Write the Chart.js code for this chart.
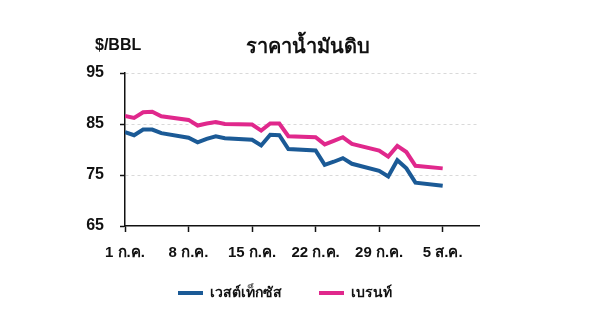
<!DOCTYPE html>
<html>
<head>
<meta charset="utf-8">
<script src="https://cdn.jsdelivr.net/npm/chart.js@4"></script>
<style>
html,body{margin:0;padding:0;background:#fff;}
#wrap{position:relative;width:600px;height:314px;}
</style>
</head>
<body>
<div id="wrap"><canvas id="c" width="600" height="314"></canvas></div>
<script>
const dates = ['2024-07-01','2024-07-02','2024-07-03','2024-07-04','2024-07-05',
  '2024-07-08','2024-07-09','2024-07-10','2024-07-11','2024-07-12',
  '2024-07-15','2024-07-16','2024-07-17','2024-07-18','2024-07-19',
  '2024-07-22','2024-07-23','2024-07-24','2024-07-25','2024-07-26',
  '2024-07-29','2024-07-30','2024-07-31','2024-08-01','2024-08-02','2024-08-05'];
const wti   = [83.4,82.8,83.9,83.9,83.2, 82.3,81.4,82.1,82.6,82.2, 81.9,80.8,82.9,82.8,80.1, 79.8,77.0,77.6,78.3,77.2, 75.8,74.7,77.9,76.3,73.5,72.9];
const brent = [86.6,86.2,87.3,87.4,86.5, 85.8,84.7,85.1,85.4,85.0, 84.9,83.7,85.1,85.1,82.6, 82.4,81.0,81.7,82.4,81.1, 79.8,78.6,80.7,79.5,76.8,76.3];
const seriesNames = ['เวสต์เท็กซัส','เบรนท์'];
const tickDays = [0,7,14,21,28,35];
const tickLabels = ['1 ก.ค.','8 ก.ค.','15 ก.ค.','22 ก.ค.','29 ก.ค.','5 ส.ค.'];
const yTicks = [65,75,85,95];
const titleText = 'ราคาน้ำมันดิบ';
const unitText = '$/BBL';

const base = Date.UTC(2024,6,1);
const dayOf = s => { const [y,m,d] = s.split('-').map(Number); return (Date.UTC(y,m-1,d)-base)/86400000; };
const pts = arr => arr.map((v,i)=>({x:dayOf(dates[i]), y:v}));

const FONT = "'Liberation Sans', Arial, sans-serif";

const headPlugin = {
  id:'head',
  afterDraw(chart){
    const ctx = chart.ctx;
    ctx.save();
    ctx.fillStyle = '#111';
    ctx.textBaseline = 'middle';
    ctx.textAlign = 'left';
    ctx.font = 'bold 16px ' + FONT;
    ctx.fillText(unitText, 95, 46);
    ctx.textAlign = 'center';
    ctx.font = 'bold 20px ' + FONT;
    ctx.fillText(titleText, 308, 47);
    ctx.restore();
  }
};

new Chart(document.getElementById('c'), {
  type:'line',
  data:{
    datasets:[
      {label:seriesNames[0], data:pts(wti), borderColor:'#1b5a96', backgroundColor:'#1b5a96', borderWidth:4, pointRadius:0, tension:0},
      {label:seriesNames[1], data:pts(brent), borderColor:'#e0288c', backgroundColor:'#e0288c', borderWidth:4, pointRadius:0, tension:0}
    ]
  },
  options:{
    responsive:false,
    animation:false,
    layout:{padding:{left:0, right:30, top:73, bottom:4}},
    plugins:{
      title:{display:false},
      legend:{
        position:'bottom',
        labels:{
          color:'#111', font:{family:FONT, size:14, weight:'bold'},
          boxWidth:25, boxHeight:4, padding:37,
          generateLabels: chart => Chart.defaults.plugins.legend.labels.generateLabels(chart).map(l => Object.assign(l,{lineWidth:0}))
        }
      },
      tooltip:{enabled:false}
    },
    scales:{
      x:{
        type:'linear', min:0, max:39,
        afterBuildTicks: s => { s.ticks = tickDays.map(v=>({value:v})); },
        afterFit: s => { s.height = 23; },
        ticks:{
          callback: v => tickLabels[tickDays.indexOf(v)],
          mirror:true,
          color:'#111', font:{family:FONT, size:15, weight:'bold'}, padding:-36, maxRotation:0, autoSkip:false
        },
        grid:{drawOnChartArea:false, tickLength:6, tickColor:'#111', tickWidth:1.5},
        border:{color:'#111', width:1.5}
      },
      y:{
        min:65, max:95,
        afterBuildTicks: s => { s.ticks = yTicks.map(v=>({value:v})); },
        afterFit: s => { s.width = 125; },
        ticks:{color:'#111', font:{family:FONT, size:16, weight:'bold'}, padding:16},
        grid:{color: c => (c.tick && c.tick.value === 65) ? 'rgba(0,0,0,0)' : '#d9d9d9', lineWidth:1, tickLength:5, tickColor:'#111', tickWidth:1.5},
        border:{color:'#111', width:1.5, dash:[3,3]}
      },
      yPad:{
        position:'right',
        afterFit: s => { s.width = 91; },
        ticks:{display:false},
        grid:{display:false},
        border:{display:false}
      }
    }
  },
  plugins:[headPlugin]
});
</script>
</body>
</html>
